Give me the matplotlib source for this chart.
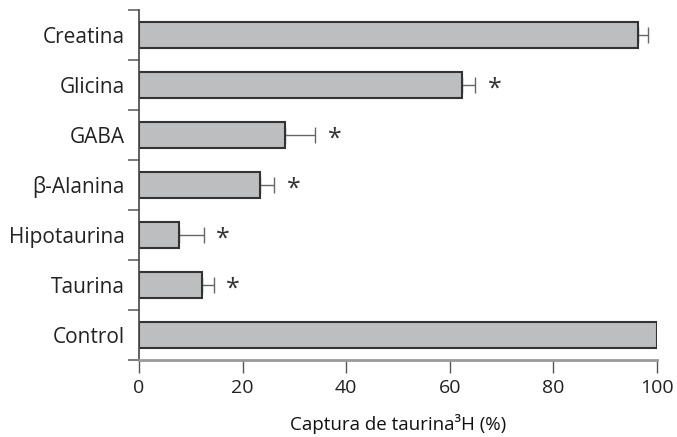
import numpy as np
import matplotlib
matplotlib.use("Agg")
import matplotlib.pyplot as plt

plt.rcParams['font.family'] = ['Open Sans', 'DejaVu Sans']

categories = ['Control', 'Taurina', 'Hipotaurina', 'β-Alanina', 'GABA', 'Glicina', 'Creatina']
values = [100, 12.1, 7.8, 23.4, 28.2, 62.4, 96.3]
errors = [0, 2.3, 4.7, 2.7, 5.8, 2.5, 2.0]
significant = [False, True, True, True, True, True, False]

fig = plt.figure(figsize=(6.77, 4.37), dpi=100)
ax = fig.add_axes([0.2053, 0.1762, 0.765, 0.801])

y = np.arange(len(categories))
ax.barh(y, values, height=0.52, color='#bdbec0', edgecolor='#333333', linewidth=1.5, zorder=2)

for i in range(len(categories)):
    if errors[i] > 0:
        ax.errorbar(values[i], y[i], xerr=[[0], [errors[i]]], fmt='none',
                    ecolor='#666666', elinewidth=1, capsize=6, capthick=1, zorder=1)
    if significant[i]:
        ax.annotate('*', (values[i] + errors[i], y[i]), xytext=(14, -3),
                    textcoords='offset points', ha='center', va='center',
                    fontsize=18, color='#333333')

ax.set_xlim(0, 100)
ax.set_ylim(-0.5, len(categories) - 0.5)
ax.set_xticks([0, 20, 40, 60, 80, 100])
ax.set_yticks(y)
ax.set_yticklabels(categories, fontsize=15, color='#222222')
ax.set_yticks(np.arange(-0.5, len(categories), 1), minor=True)
ax.tick_params(axis='y', which='major', length=0, pad=10)
ax.tick_params(axis='y', which='minor', length=8, width=1.2, color='#666666')
ax.tick_params(axis='x', length=9, width=1, color='#555555', labelsize=14,
               labelcolor='#222222', pad=5)
ax.set_xlabel('Captura de taurina³H (%)', fontsize=13.5, labelpad=12, color='#111111')

for s in ['top', 'right']:
    ax.spines[s].set_visible(False)
ax.spines['left'].set_color('#444444')
ax.spines['left'].set_linewidth(1.2)
ax.spines['left'].set_bounds(-0.5, len(categories) - 0.5)
ax.spines['bottom'].set_color('#999999')
ax.spines['bottom'].set_linewidth(2)

fig.savefig('out.png', dpi=100)
